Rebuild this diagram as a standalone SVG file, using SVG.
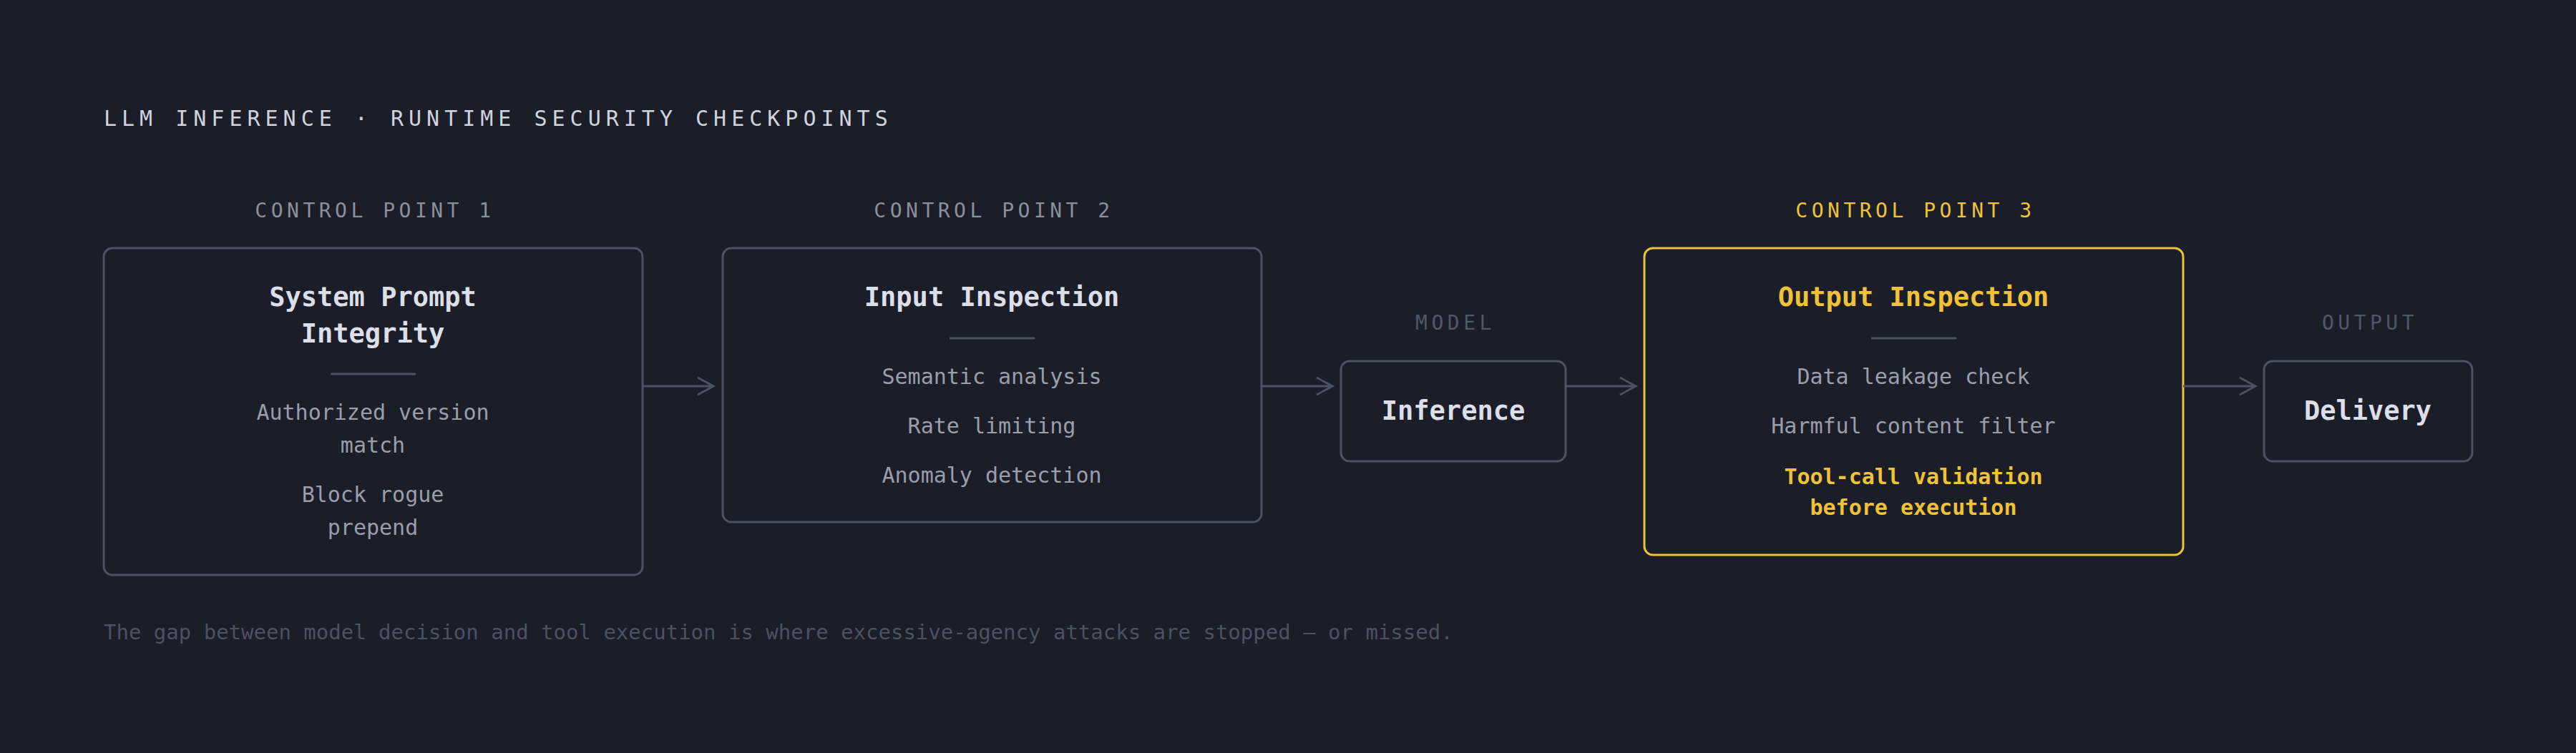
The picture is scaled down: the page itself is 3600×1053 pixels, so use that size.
<svg xmlns="http://www.w3.org/2000/svg" width="3600" height="1053" viewBox="0 0 3600 1053">
<style>
text{font-family:"DejaVu Sans Mono","Liberation Mono",monospace}
.box{fill:#1b1d28;stroke:#4a5263;stroke-width:3}
.hl{fill:#1b1d28;stroke:#f0c23a;stroke-width:3}
.t{font-size:37px;font-weight:bold;fill:#dcdee8;text-anchor:middle}
.i{font-size:30px;fill:#9a9eab;text-anchor:middle}
.lab{font-size:28px;letter-spacing:5.5px;fill:#8a8f9c;text-anchor:middle}
.dim{fill:#4f5768}
.y{fill:#f0c23a}
.div{stroke:#4a5263;stroke-width:3}
.c{stroke:#4a5263;stroke-width:3;fill:none}
</style>
<rect width="3600" height="1053" fill="#1b1d28"/>
<text x="145" y="176" font-size="30" letter-spacing="7" fill="#d0d3de">LLM INFERENCE · RUNTIME SECURITY CHECKPOINTS</text>
<g id="cp1">
<text class="lab" x="524" y="304">CONTROL POINT 1</text>
<rect class="box" x="145" y="347" width="753" height="457" rx="12"/>
<text class="t" x="521" y="428">System Prompt</text>
<text class="t" x="521" y="479">Integrity</text>
<line class="div" x1="462" y1="523" x2="581" y2="523"/>
<text class="i" x="521" y="587">Authorized version</text>
<text class="i" x="521" y="633">match</text>
<text class="i" x="521" y="702">Block rogue</text>
<text class="i" x="521" y="748">prepend</text>
</g>
<g id="cp2">
<text class="lab" x="1389" y="304">CONTROL POINT 2</text>
<rect class="box" x="1010" y="347" width="753" height="383" rx="12"/>
<text class="t" x="1386" y="428">Input Inspection</text>
<line class="div" x1="1327" y1="473" x2="1446" y2="473"/>
<text class="i" x="1386" y="537">Semantic analysis</text>
<text class="i" x="1386" y="606">Rate limiting</text>
<text class="i" x="1386" y="675">Anomaly detection</text>
</g>
<g id="model">
<text class="lab dim" x="2034" y="461">MODEL</text>
<rect class="box" x="1874" y="505" width="314" height="140" rx="12"/>
<text class="t" x="2031" y="587">Inference</text>
</g>
<g id="cp3">
<text class="lab y" x="2677" y="304">CONTROL POINT 3</text>
<rect class="hl" x="2298" y="347" width="753" height="429" rx="12"/>
<text class="t y" x="2674" y="428">Output Inspection</text>
<line class="div" x1="2615" y1="473" x2="2734" y2="473"/>
<text class="i" x="2674" y="537">Data leakage check</text>
<text class="i" x="2674" y="606">Harmful content filter</text>
<text class="i y" x="2674" y="677" font-weight="bold">Tool-call validation</text>
<text class="i y" x="2674" y="720" font-weight="bold">before execution</text>
</g>
<g id="output">
<text class="lab dim" x="3312" y="461">OUTPUT</text>
<rect class="box" x="3164" y="505" width="291" height="140" rx="12"/>
<text class="t" x="3309" y="587">Delivery</text>
</g>
<g id="connectors">
<path class="c" d="M898 540H997M975 528L997 540L975 552"/>
<path class="c" d="M1763 540H1862M1840 528L1862 540L1840 552"/>
<path class="c" d="M2188 540H2286M2264 528L2286 540L2264 552"/>
<path class="c" d="M3051 540H3152M3130 528L3152 540L3130 552"/>
</g>
<text x="145" y="894" font-size="29" fill="#4a5263">The gap between model decision and tool execution is where excessive-agency attacks are stopped — or missed.</text>
</svg>
